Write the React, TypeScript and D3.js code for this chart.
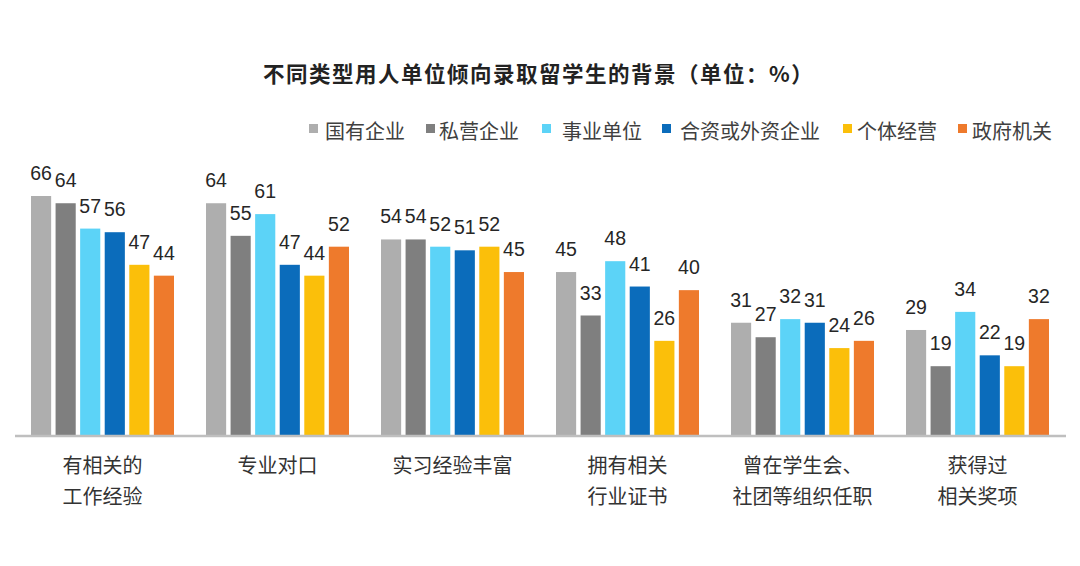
import React from "react";
import * as d3 from "d3";

const categories = [
  ["有相关的", "工作经验"],
  ["专业对口"],
  ["实习经验丰富"],
  ["拥有相关", "行业证书"],
  ["曾在学生会、", "社团等组织任职"],
  ["获得过", "相关奖项"],
];
const seriesNames = ["国有企业", "私营企业", "事业单位", "合资或外资企业", "个体经营", "政府机关"];
const seriesColors = ["#AEAEAE", "#7F7F7F", "#5CD3F7", "#0B6CBB", "#FBBF0A", "#EE7A2C"];
const stateOwned = [66, 64, 54, 45, 31, 29];
const privateEnt = [64, 55, 54, 33, 27, 19];
const publicInst = [57, 61, 52, 48, 32, 34];
const jointVenture = [56, 47, 51, 41, 31, 22];
const selfEmployed = [47, 44, 52, 26, 24, 19];
const government = [44, 52, 45, 40, 26, 32];
const seriesValues = [stateOwned, privateEnt, publicInst, jointVenture, selfEmployed, government];
const title = "不同类型用人单位倾向录取留学生的背景（单位：%）";

const legendSquareX = [309, 426, 542, 662, 843, 958];
const legendTextX = [325, 439, 562, 680, 857, 972];

export default function App() {
  const W = 1080, H = 566;
  const baseY = 435;
  const catKeys = categories.map((c) => c.join(""));
  const x0 = d3.scaleBand<string>().domain(catKeys).range([15, 1065]).padding(0);
  const x1 = d3.scaleBand<string>().domain(seriesNames).range([16, 159]).paddingInner(0.18).paddingOuter(0);
  const y = d3.scaleLinear().domain([0, 66]).range([baseY, 196]);
  const cjk = "'Noto Sans CJK SC', 'Noto Sans', sans-serif";
  const num = "'Liberation Sans', Arial, sans-serif";

  return (
    <svg width={W} height={H} style={{ position: "absolute", left: 0, top: 0, background: "#fff" }}>
      <rect width={W} height={H} fill="#fff" />
      <text x={263} y={82} fontFamily={cjk} fontWeight={700} fontSize={21.5} letterSpacing={1.5} fill="#222">
        {title}
      </text>
      {seriesNames.map((s, i) => (
        <g key={s}>
          <rect x={legendSquareX[i]} y={124} width={9} height={9} fill={seriesColors[i]} />
          <text x={legendTextX[i]} y={139} fontFamily={cjk} fontSize={20} fill="#404040">
            {s}
          </text>
        </g>
      ))}
      {catKeys.map((c, ci) => (
        <g key={c} transform={`translate(${x0(c)},0)`}>
          {seriesNames.map((s, si) => {
            const v = seriesValues[si][ci];
            const bx = x1(s)!;
            const bw = x1.bandwidth();
            return (
              <g key={s}>
                <rect x={bx} y={y(v)} width={bw} height={baseY - y(v)} fill={seriesColors[si]} />
                <text x={bx + bw / 2} y={y(v) - 16} textAnchor="middle" fontFamily={num} fontSize={19.5} fill="#262626">
                  {v}
                </text>
              </g>
            );
          })}
          {categories[ci].map((line, li) => (
            <text key={li} x={x0.bandwidth() / 2} y={473 + li * 31} textAnchor="middle" fontFamily={cjk} fontSize={20} fill="#333">
              {line}
            </text>
          ))}
        </g>
      ))}
      <line x1={15} x2={1066} y1={baseY + 1} y2={baseY + 1} stroke="#BFBFBF" strokeWidth={2.5} />
    </svg>
  );
}
